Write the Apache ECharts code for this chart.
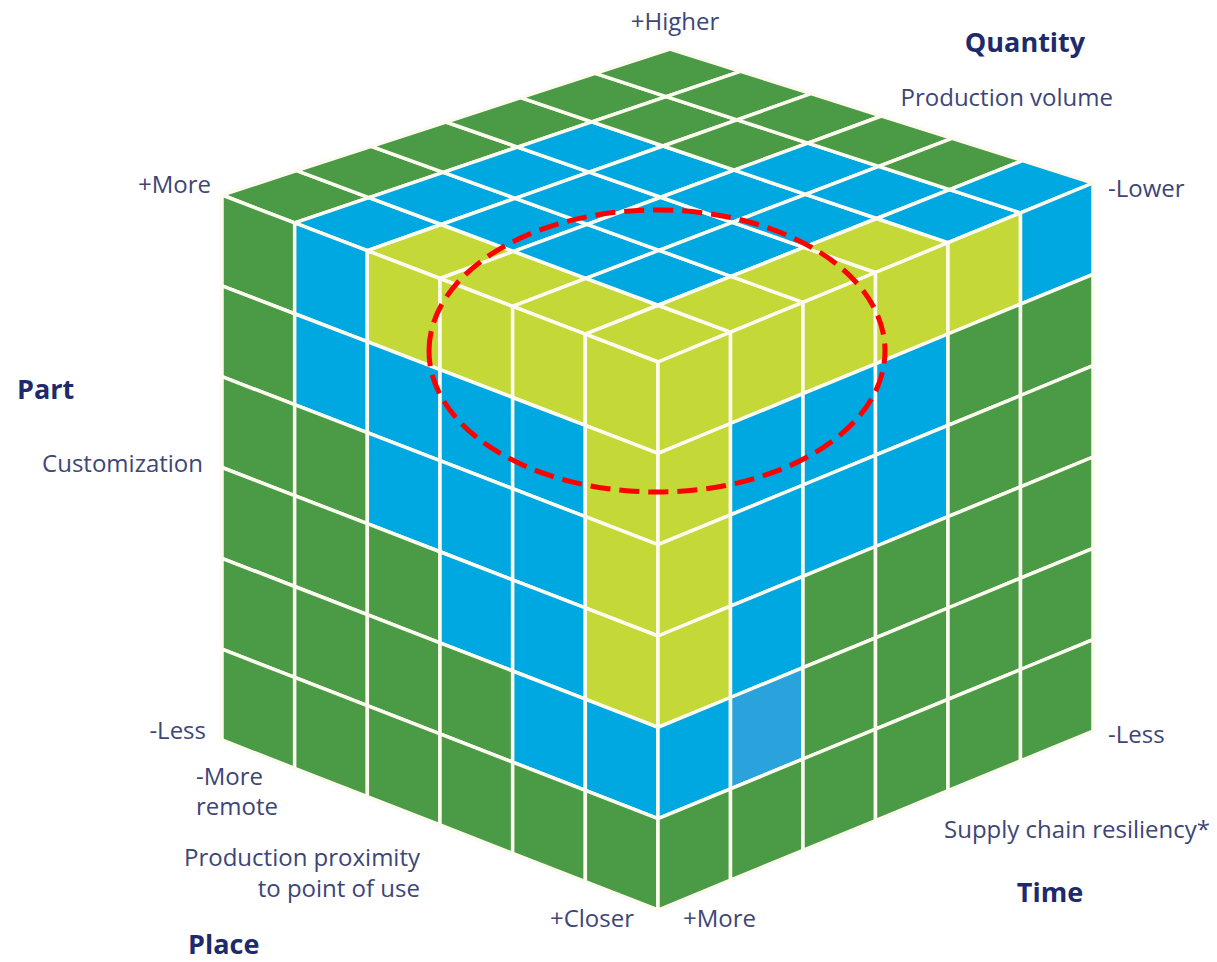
<!DOCTYPE html>
<html>
<head>
<meta charset="utf-8">
<title>Cube</title>
<script src="https://cdn.jsdelivr.net/npm/echarts@6/dist/echarts.min.js"></script>
<style>
html, body { margin: 0; padding: 0; background: #fff; }
#main { width: 1217px; height: 962px; }
</style>
</head>
<body>
<div id="main"></div>
<script>
// cell colours: G green, B blue, Y yellow-green, b lighter blue
// left face: rows top -> bottom, columns from the left corner to the front edge
var leftFace = [
	['G', 'B', 'Y', 'Y', 'Y', 'Y'],
	['G', 'B', 'B', 'B', 'B', 'Y'],
	['G', 'G', 'B', 'B', 'B', 'Y'],
	['G', 'G', 'G', 'B', 'B', 'Y'],
	['G', 'G', 'G', 'G', 'B', 'B'],
	['G', 'G', 'G', 'G', 'G', 'G']
];
// right face: rows top -> bottom, columns from the front edge to the right corner
var rightFace = [
	['Y', 'Y', 'Y', 'Y', 'Y', 'B'],
	['Y', 'B', 'B', 'B', 'G', 'G'],
	['Y', 'B', 'B', 'B', 'G', 'G'],
	['Y', 'B', 'G', 'G', 'G', 'G'],
	['B', 'b', 'G', 'G', 'G', 'G'],
	['G', 'G', 'G', 'G', 'G', 'G']
];
// top face: rows from the left-front edge to the back-right edge,
// columns from the left-back edge to the front-right edge
var topFace = [
	['G', 'B', 'Y', 'Y', 'Y', 'Y'],
	['G', 'B', 'B', 'B', 'B', 'Y'],
	['G', 'B', 'B', 'B', 'B', 'Y'],
	['G', 'B', 'B', 'B', 'B', 'Y'],
	['G', 'G', 'G', 'B', 'B', 'B'],
	['G', 'G', 'G', 'G', 'G', 'B']
];

var axisTitles = ['Quantity', 'Part', 'Time', 'Place'];
var axisNames = ['Production volume', 'Customization', 'Supply chain resiliency*', 'Production proximity', 'to point of use'];
var quantityEnds = ['+Higher', '-Lower'];
var partEnds = ['+More', '-Less'];
var timeEnds = ['+More', '-Less'];
var placeEnds = ['+Closer', '-More', 'remote'];

var palette = { G: '#4b9a45', B: '#00a8e1', Y: '#c4d837', b: '#2aa3dc' };

// face corners (p00, p10, p01, p11), u along columns, v along rows
var faceCorners = [
	[[222, 195], [658, 362], [670, 49], [1093, 183]],   // top
	[[222, 195], [658, 362], [222, 740], [658, 910]],   // left
	[[658, 362], [1093, 183], [658, 910], [1093, 731]]  // right
];
var faces = [topFace, leftFace, rightFace];
var N = 6;

function bilinear(c, u, v) {
	return [
		c[0][0] * (1 - u) * (1 - v) + c[1][0] * u * (1 - v) + c[2][0] * (1 - u) * v + c[3][0] * u * v,
		c[0][1] * (1 - u) * (1 - v) + c[1][1] * u * (1 - v) + c[2][1] * (1 - u) * v + c[3][1] * u * v
	];
}

var cells = [];
for (var f = 0; f < faces.length; f++) {
	for (var r = 0; r < N; r++) {
		for (var c = 0; c < N; c++) {
			cells.push({
				value: [f, c, r],
				itemStyle: { color: palette[faces[f][r][c]] }
			});
		}
	}
}

function renderCell(params, api) {
	var corners = faceCorners[api.value(0)];
	var c = api.value(1), r = api.value(2);
	var pts = [[c, r], [c + 1, r], [c + 1, r + 1], [c, r + 1]].map(function (p) {
		return api.coord(bilinear(corners, p[0] / N, p[1] / N));
	});
	return {
		type: 'polygon',
		shape: { points: pts },
		style: {
			fill: api.visual('color'),
			stroke: '#fdfbef',
			lineWidth: 3.5,
			lineJoin: 'round'
		}
	};
}

var textColor = '#3d4677';
var titleColor = '#1d2a6b';
var regular = '24px "Open Sans", sans-serif';
var bold = 'bold 27px "Open Sans", sans-serif';

function label(text, x, y, align, font, color) {
	return {
		type: 'text',
		x: x,
		y: y,
		z: 10,
		style: {
			text: text,
			font: font || regular,
			fill: color || textColor,
			textAlign: align,
			textVerticalAlign: 'middle',
			verticalAlign: 'middle',
			lineHeight: 26
		}
	};
}

var chart = echarts.init(document.getElementById('main'), null, { renderer: 'svg' });

var option = {
	animation: false,
	backgroundColor: '#ffffff',
	grid: { left: 0, right: 0, top: 0, bottom: 0 },
	xAxis: { type: 'value', min: 0, max: 1217, show: false },
	yAxis: { type: 'value', min: 0, max: 962, inverse: true, show: false },
	series: [{
		type: 'custom',
		renderItem: renderCell,
		data: cells,
		silent: true
	}],
	graphic: [
		{
			type: 'ellipse',
			z: 20,
			shape: { cx: 657, cy: 351, rx: 228, ry: 141 },
			style: { fill: 'none', stroke: '#ff0000', lineWidth: 5, lineDash: [20, 9] }
		},
		label(quantityEnds[0], 675, 20, 'center'),
		label(axisTitles[0], 1025, 41, 'center', bold, titleColor),
		label(axisNames[0], 1113, 96, 'right'),
		label(quantityEnds[1], 1108, 187, 'left'),
		label(partEnds[0], 211, 183, 'right'),
		label(axisTitles[1], 17, 388, 'left', bold, titleColor),
		label(axisNames[1], 203, 462, 'right'),
		label(partEnds[1], 206, 729, 'right'),
		label(placeEnds[1], 196, 775, 'left'),
		label(placeEnds[2], 196, 805, 'left'),
		label(axisNames[3], 420, 856, 'right'),
		label(axisNames[4], 420, 887, 'right'),
		label(placeEnds[0], 634, 917, 'right'),
		label(axisTitles[3], 188, 943, 'left', bold, titleColor),
		label(timeEnds[0], 683, 917, 'left'),
		label(timeEnds[1], 1108, 733, 'left'),
		label(axisNames[2], 1210, 828, 'right'),
		label(axisTitles[2], 1050, 891, 'center', bold, titleColor)
	]
};

chart.setOption(option);
</script>
</body>
</html>
